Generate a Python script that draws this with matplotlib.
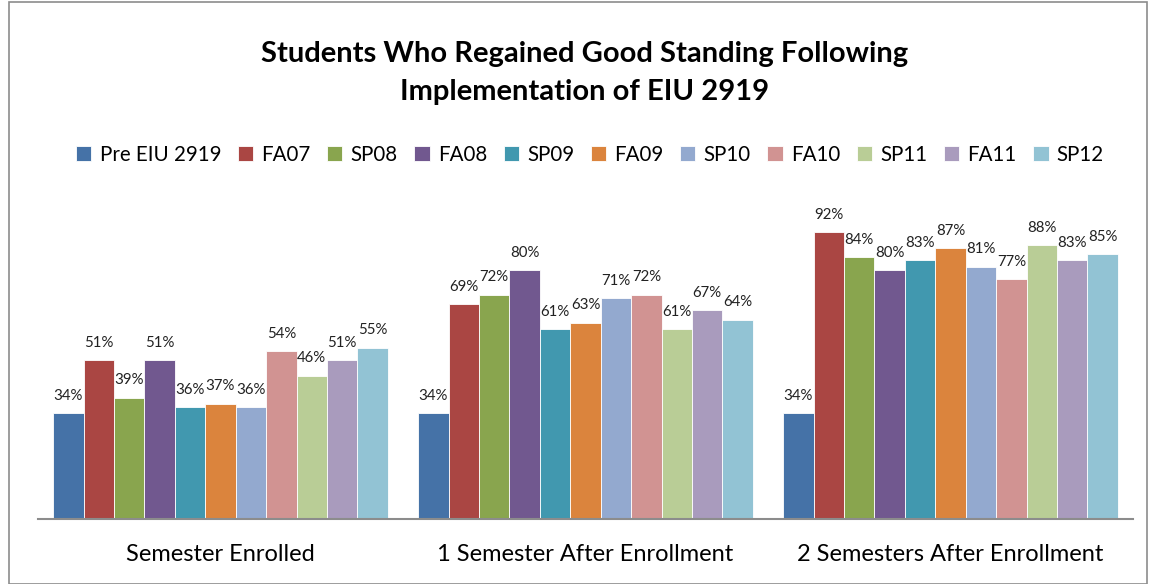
import matplotlib
matplotlib.use("Agg")
import matplotlib.pyplot as plt
import numpy as np
from matplotlib.patches import Rectangle

categories = ["Semester Enrolled", "1 Semester After Enrollment", "2 Semesters After Enrollment"]
series = ["Pre EIU 2919", "FA07", "SP08", "FA08", "SP09", "FA09", "SP10", "FA10", "SP11", "FA11", "SP12"]
values = {
    "Pre EIU 2919": [34, 34, 34],
    "FA07": [51, 69, 92],
    "SP08": [39, 72, 84],
    "FA08": [51, 80, 80],
    "SP09": [36, 61, 83],
    "FA09": [37, 63, 87],
    "SP10": [36, 71, 81],
    "FA10": [54, 72, 77],
    "SP11": [46, 61, 88],
    "FA11": [51, 67, 83],
    "SP12": [55, 64, 85],
}
colors = ["#4572A7", "#AA4643", "#89A54E", "#71588F", "#4198AF", "#DB843D",
          "#93A9CF", "#D19392", "#B9CD96", "#A99BBD", "#92C3D4"]

plt.rcParams['font.family'] = ['Lato', 'DejaVu Sans']

W, H = 1150, 584
fig = plt.figure(figsize=(W/100, H/100), dpi=100)
fig.patches.append(Rectangle((9/W, 0), (1147-9)/W, 1 - 2/H, transform=fig.transFigure,
                             fill=False, edgecolor="#8c8c8c", linewidth=1.2))

ax = fig.add_axes([38/W, (H-519)/H, (1133-38)/W, (519-207.5)/H])
x = np.arange(len(categories))
bw = 1/12
n = len(series)
for i, s in enumerate(series):
    pos = x + (i - (n-1)/2) * bw
    v = np.array(values[s])
    ax.bar(pos, v, width=bw, color=colors[i], edgecolor="white", linewidth=0.6, label=s)
    for px, pv in zip(pos, v):
        ax.text(px, pv + 3.3, f"{pv}%", ha="center", va="bottom", fontsize=10.8, color="#222222")

ax.set_xlim(-0.5, 2.5)
ax.set_ylim(0, 100)
ax.set_yticks([])
for sp in ["top", "right", "left"]:
    ax.spines[sp].set_visible(False)
ax.spines["bottom"].set_color("#8c8c8c")
ax.spines["bottom"].set_linewidth(1.5)
ax.set_xticks(x)
ax.set_xticklabels(categories, fontsize=17)
ax.tick_params(axis="x", length=0, pad=18)

fig.text(585/W, 1 - 54/H, "Students Who Regained Good Standing Following", ha="center", va="center",
         fontsize=21, fontweight="bold")
fig.text(585/W, 1 - 92/H, "Implementation of EIU 2919", ha="center", va="center",
         fontsize=21, fontweight="bold")

handles, labels = ax.get_legend_handles_labels()
fig.legend(handles, labels, loc="center", bbox_to_anchor=(590/W, 1 - 155/H), ncol=11,
           frameon=False, fontsize=14.8, handlelength=0.75, handleheight=0.75,
           handletextpad=0.4, columnspacing=0.8)

fig.savefig("out.png", dpi=100)
